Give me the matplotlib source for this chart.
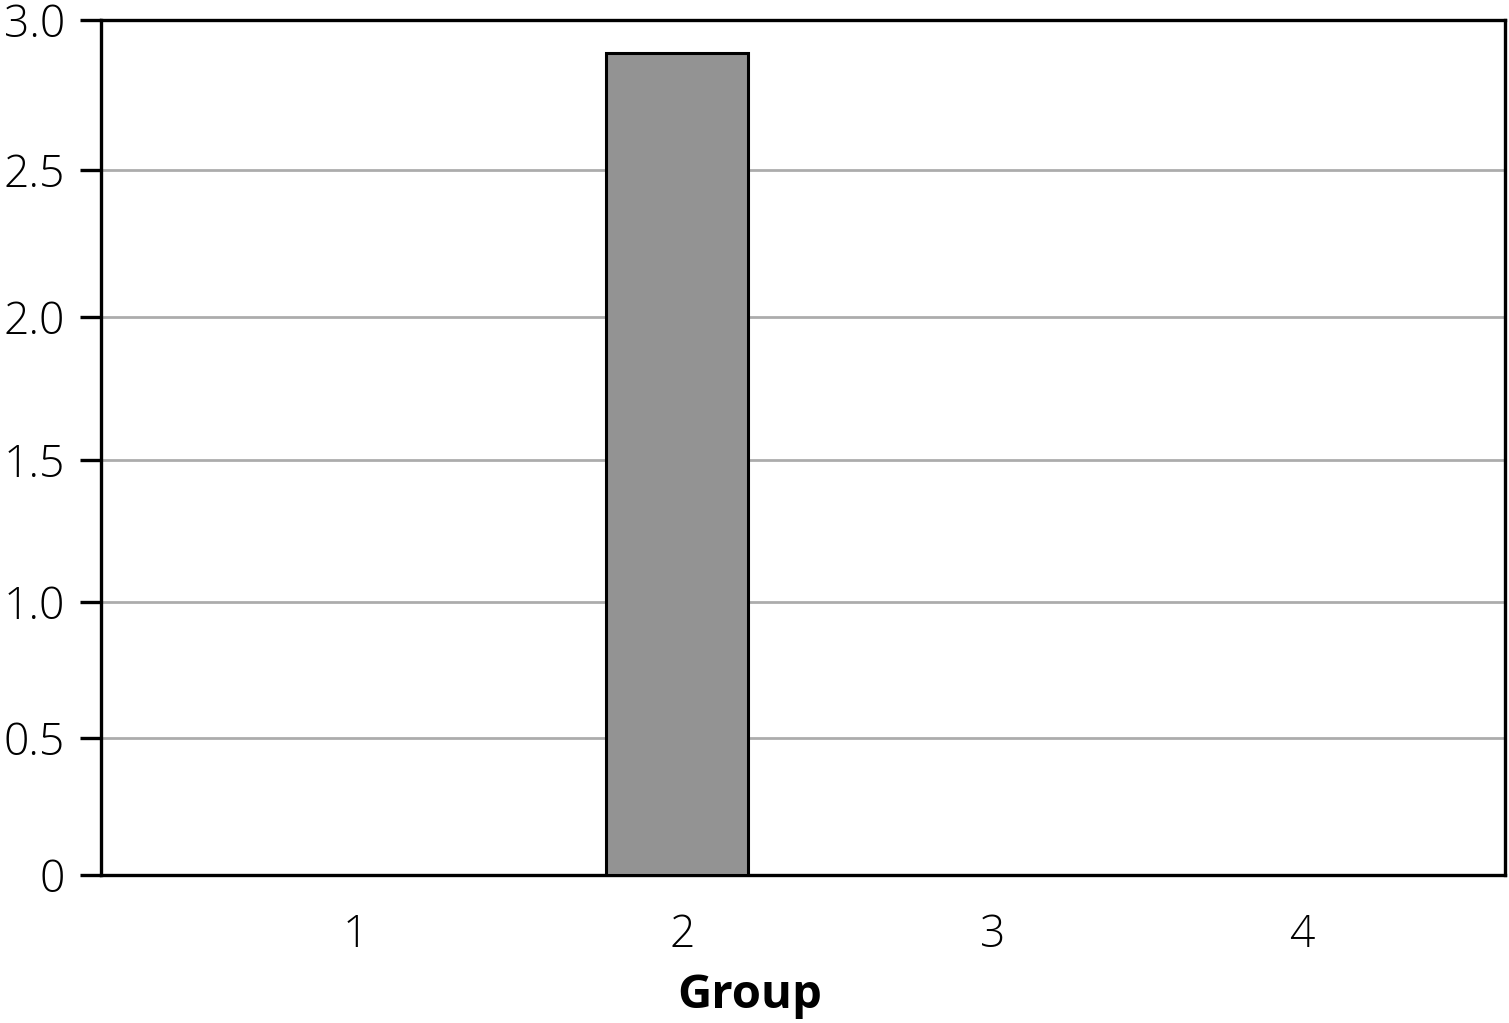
import matplotlib
matplotlib.use("Agg")
import matplotlib.pyplot as plt
import numpy as np
from matplotlib.ticker import FixedLocator, FixedFormatter

categories = ["1", "2", "3", "4"]
cat_pos = [1, 2, 3, 4]
bar_pos = [1.99]
bar_values = [2.89]
y_ticks = [0, 0.5, 1.0, 1.5, 2.0, 2.5, 3.0]
y_tick_labels = ["0", "0.5", "1.0", "1.5", "2.0", "2.5", "3.0"]

# Axis scales of the reference picture are slightly uneven; reproduce them
# with piecewise-linear function scales (knots in data units -> screen units).
x_knots_data = [-10, 1, 2, 3, 4, 15]
x_knots_scr = [355 - 11 * 327, 355, 682, 993, 1302, 1302 + 11 * 309]
y_knots_data = [-1, 0, 0.5, 1.0, 1.5, 2.0, 2.5, 3.0, 4.0]
y_knots_scr = [-275, 0, 137, 273, 415, 558, 705, 855, 1155]


def xf(v):
    return np.interp(v, x_knots_data, x_knots_scr)


def xi(v):
    return np.interp(v, x_knots_scr, x_knots_data)


def yf(v):
    return np.interp(v, y_knots_data, y_knots_scr)


def yi(v):
    return np.interp(v, y_knots_scr, y_knots_data)


dpi = 100
fig = plt.figure(figsize=(15.09, 10.23), dpi=dpi)
ax = fig.add_axes([101/1509, (1023-875)/1023, (1505-101)/1509, (875-20)/1023])
ax.set_xscale("function", functions=(xf, xi))
ax.set_yscale("function", functions=(yf, yi))

ax.bar(bar_pos, bar_values, width=0.445, color="#939393", edgecolor="black", linewidth=2.2, zorder=3)

ax.set_xlim(xi(101), xi(1505))
ax.set_ylim(0, 3.0)
ax.yaxis.set_major_locator(FixedLocator(y_ticks))
ax.yaxis.set_major_formatter(FixedFormatter(y_tick_labels))
ax.yaxis.set_minor_locator(FixedLocator([]))
ax.xaxis.set_major_locator(FixedLocator(cat_pos))
ax.xaxis.set_major_formatter(FixedFormatter(categories))
ax.xaxis.set_minor_locator(FixedLocator([]))

ax.grid(axis="y", color="#acacac", linewidth=2.0, zorder=0)
ax.set_axisbelow(True)
for s in ax.spines.values():
    s.set_linewidth(2.4)
    s.set_color("black")

ax.tick_params(axis="y", direction="out", length=15, width=2.4, pad=11,
               labelsize=32, labelcolor="black")
ax.tick_params(axis="x", length=0, pad=28, labelsize=32)
for lab in ax.get_yticklabels() + ax.get_xticklabels():
    lab.set_fontfamily("Open Sans")
    lab.set_fontweight("light")

ax.set_xlabel("Group", fontsize=34, fontweight="bold", family="Open Sans")
ax.xaxis.set_label_coords((750-101)/1404, -0.114)

fig.savefig("out.png", dpi=dpi)
